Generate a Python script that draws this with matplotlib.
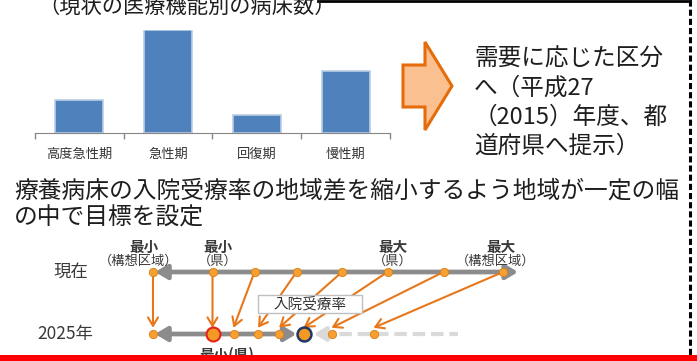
import matplotlib

matplotlib.use("Agg")
import matplotlib.pyplot as plt
from matplotlib.patches import Polygon, Rectangle, ArrowStyle

plt.rcParams["font.family"] = ["Noto Sans CJK JP", "DejaVu Sans"]

# ---- data -------------------------------------------------------------
categories = ["高度急性期", "急性期", "回復期", "慢性期"]
beds = [33, 103, 18, 62]

# 入院受療率 (relative scale): current values and 2025 targets
rate_now = [0, 17, 29, 41, 54, 67, 83, 100]
rate_2025 = [0, 17, 23, 30, 36, 43, 51, 63]
MIN_PREF = 1   # index of 最小(県)
TARGET = 5     # index of the 2025 target

title_text = "（現状の医療機能別の病床数）"
right_lines = ["需要に応じた区分", "へ（平成27", "（2015）年度、都", "道府県へ提示）"]
mid_lines = ["療養病床の入院受療率の地域差を縮小するよう地域が一定の幅", "の中で目標を設定"]

W, H = 697, 361
TXT = "#1e1e1e"
ORANGE = "#E8771A"
GRAY = "#8C8C8C"

fig = plt.figure(figsize=(W / 100, H / 100), dpi=100)

# ---- bar chart --------------------------------------------------------
axb = fig.add_axes([35 / W, (H - 133) / H, 355 / W, 103 / H])
axb.bar(range(len(beds)), beds, width=0.54, color="#4F81BD",
        edgecolor="#B9CDE5", linewidth=1.2)
axb.set_xlim(-0.5, len(beds) - 0.5)
axb.set_ylim(0, max(beds))
axb.set_xticks(range(len(beds)))
axb.set_xticklabels(categories, fontsize=9.5, color="#333333")
axb.tick_params(axis="x", which="major", length=0, pad=11)
axb.set_xticks([i - 0.5 for i in range(len(beds) + 1)], minor=True)
axb.tick_params(axis="x", which="minor", length=4, width=1, color="#868686")
axb.set_yticks([])
for s in ("top", "left", "right"):
    axb.spines[s].set_visible(False)
axb.spines["bottom"].set_color("#868686")
axb.patch.set_visible(False)

# ---- rate diagram -----------------------------------------------------
PX = 3.5          # pixels per rate unit
X0, Y_NOW, Y_25 = 153, 272, 334
ROW = Y_25 - Y_NOW
axd = fig.add_axes([0, 0, 1, 1], zorder=1)
axd.set_xlim(-X0 / PX, (W - X0) / PX)
axd.set_ylim(-(H - Y_25) / ROW, 1 + Y_NOW / ROW)
axd.axis("off")

gray_head = ArrowStyle("<|-|>", head_length=0.5, head_width=0.3)
axd.annotate("", xy=(rate_now[-1] + 4.3, 1), xytext=(rate_now[0] + 0.6, 1),
             arrowprops=dict(arrowstyle=gray_head, color=GRAY, lw=3.4,
                             shrinkA=0, shrinkB=0, mutation_scale=14), zorder=2)
axd.annotate("", xy=(rate_2025[TARGET] - 2.0, 0), xytext=(rate_2025[0] + 0.6, 0),
             arrowprops=dict(arrowstyle=gray_head, color=GRAY, lw=3.4,
                             shrinkA=0, shrinkB=0, mutation_scale=14), zorder=2)
# light dashed range beyond the target
axd.plot([rate_2025[TARGET] + 5, rate_2025[-1] + 24], [0, 0], color="#DADADA",
         lw=3, dashes=(3, 1.4), zorder=1)
axd.annotate("", xy=(rate_2025[TARGET] + 3, 0), xytext=(rate_2025[TARGET] + 6, 0),
             arrowprops=dict(arrowstyle="-|>,head_length=0.5,head_width=0.3",
                             color="#DADADA", lw=3, shrinkA=0, shrinkB=0,
                             mutation_scale=14), zorder=1)

for a, b in zip(rate_now, rate_2025):
    axd.annotate("", xy=(b, 0.1), xytext=(a, 1),
                 arrowprops=dict(arrowstyle="->,head_length=0.5,head_width=0.3",
                                 color=ORANGE, lw=1.5, shrinkA=0, shrinkB=0,
                                 mutation_scale=12), zorder=3)

dot = dict(marker="o", ms=6, mfc="#F5A030", mec="#D98019", mew=0.6, ls="none")
axd.plot(rate_now, [1] * len(rate_now), zorder=4, **dot)
axd.plot(rate_2025, [0] * len(rate_2025), zorder=4, **dot)
axd.plot([rate_2025[MIN_PREF]], [0], marker="o", ms=10, mfc="#F39A24",
         mec="#E2231A", mew=1.5, ls="none", zorder=5)
axd.plot([rate_2025[TARGET]], [0], marker="o", ms=10, mfc="#F39A24",
         mec="#203864", mew=1.8, ls="none", zorder=5)

axd.add_patch(Rectangle((30, 0.339), 29.7, 0.29, facecolor="white",
                        edgecolor="#BFBFBF", lw=1, zorder=6))
axd.text(44.9, 0.484, "入院受療率", fontsize=10.5, color="#333333",
         ha="center", va="center", zorder=7)

DG = "#3a3a3a"
axd.text(-23.4, 1, "現在", fontsize=12.5, color=DG, ha="center", va="center")
axd.text(-25.1, 0, "2025年", fontsize=12.5, color=DG, ha="center", va="center")
for x, top, sub in [(-2.6, "最小", "（構想区域）"), (18.5, "最小", "（県）"),
                    (68.5, "最大", "（県）"), (99.4, "最大", "（構想区域）")]:
    axd.text(x, 1.40, top, fontsize=10.5, fontweight="bold", color=DG,
             ha="center", va="center")
    axd.text(x - 1.5 if sub != "（県）" else x, 1.17, sub, fontsize=9.5,
             color=DG, ha="center", va="center")
axd.text(21.1, -0.33, "最小(県)", fontsize=10.5, fontweight="bold", color=DG,
         ha="center", va="center")

# ---- overlay: borders, arrow, texts (pixel coordinates) --------------
ax = fig.add_axes([0, 0, 1, 1], zorder=2)
ax.set_xlim(0, W)
ax.set_ylim(H, 0)
ax.axis("off")

ax.plot([318, 690], [1, 1], color="black", lw=2)
ax.plot([689.5, 689.5], [0, 355], color="black", lw=2.2, dashes=(2.0, 1.0))
ax.add_patch(Rectangle((0, 355), W, 6, facecolor="#FF0000", edgecolor="none"))

ax.add_patch(Polygon([(403, 65), (425, 65), (425, 42), (452, 86),
                      (425, 130), (425, 107), (403, 107)], closed=True,
                     facecolor="#FAC090", edgecolor="#E46C0A", lw=2.2))

ax.text(38, 13, title_text, fontsize=15.3, color=TXT, ha="left", va="baseline")
for i, line in enumerate(right_lines):
    ax.text(474, 59 + 29 * i, line, fontsize=17, color=TXT,
            ha="left", va="center")
for i, line in enumerate(mid_lines):
    ax.text(14, 191 + 27 * i, line, fontsize=17.1, color=TXT,
            ha="left", va="center")

fig.savefig("out.png", dpi=100)
